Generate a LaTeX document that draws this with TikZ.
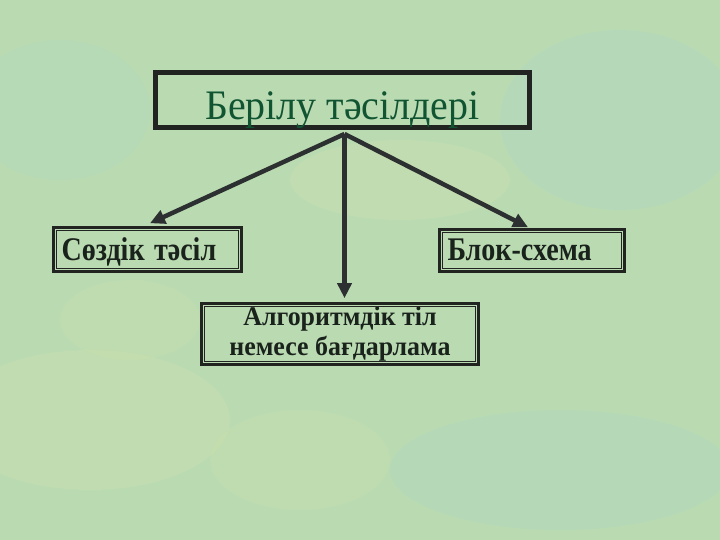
\documentclass[tikz,border=0pt]{standalone}
\usepackage{fontspec}
\setmainfont{Liberation Serif}
\usetikzlibrary{arrows.meta}
\definecolor{bgA}{RGB}{186,219,178}
\definecolor{bgB}{RGB}{206,224,172}
\definecolor{bgC}{RGB}{170,214,198}
\definecolor{edge}{RGB}{34,36,34}
\definecolor{arr}{RGB}{45,48,48}
\definecolor{titlegreen}{RGB}{16,84,50}
\definecolor{bodytext}{RGB}{26,34,28}
\tikzset{
  topbox/.style={draw=edge, line width=5pt, minimum width=374pt, minimum height=55pt, inner sep=0pt},
  lowbox/.style={draw=edge, line width=2.6pt, inner ysep=0pt, text=bodytext},
  conn/.style={draw=arr, line width=4.5pt, -{Triangle[length=15pt,width=14pt]}},
  inner/.style={draw=edge, line width=0.8pt}
}
\begin{document}
\begin{tikzpicture}[x=1pt,y=-1pt]
\useasboundingbox (0,0) rectangle (720,540);
\fill[bgA] (0,0) rectangle (720,540);
\fill[bgB, opacity=0.3] (90,420) ellipse (140 and 70);
\fill[bgB, opacity=0.3] (400,180) ellipse (110 and 40);
\fill[bgC, opacity=0.3] (620,120) ellipse (120 and 90);
\fill[bgC, opacity=0.25] (560,470) ellipse (170 and 60);
\fill[bgB, opacity=0.25] (300,460) ellipse (90 and 50);
\fill[bgC, opacity=0.2] (60,110) ellipse (90 and 70);
\fill[bgB, opacity=0.25] (130,320) ellipse (70 and 40);

\node[topbox, text=titlegreen, font=\fontsize{42}{44}\selectfont] (top) at (342.5,100)
  {\raisebox{-20pt}[0pt][0pt]{\scalebox{0.95}[1]{Берілу тәсілдері}}};
\node[lowbox, minimum width=188pt, minimum height=44pt, inner xsep=8pt, text width=172pt, align=left,
  font=\bfseries\fontsize{33}{35}\selectfont] (left) at (147.5,249.5)
  {\raisebox{-11pt}[0pt][0pt]{\scalebox{0.85}[1]{Сөздік тәсіл}}};
\node[lowbox, minimum width=185pt, minimum height=42pt, inner xsep=8pt, text width=169pt, align=left,
  font=\bfseries\fontsize{33}{35}\selectfont] (right) at (532,250.5)
  {\raisebox{-10pt}[0pt][0pt]{\scalebox{0.85}[1]{Блок-схема}}};
\node[lowbox, minimum width=277pt, minimum height=61pt, font=\bfseries\fontsize{27}{30}\selectfont] (mid) at (340,334)
  {\scalebox{0.96}[1]{\begin{tabular}{@{}c@{}}Алгоритмдік тіл\\немесе бағдарлама\end{tabular}}};

\draw[inner] ([shift={(4.5pt,-4.5pt)}]left.north west) rectangle ([shift={(-4.5pt,4.5pt)}]left.south east);
\draw[inner] ([shift={(4.5pt,-4.5pt)}]right.north west) rectangle ([shift={(-4.5pt,4.5pt)}]right.south east);
\draw[inner] ([shift={(4.5pt,-4.5pt)}]mid.north west) rectangle ([shift={(-4.5pt,4.5pt)}]mid.south east);

\coordinate (hub) at ([xshift=2pt,yshift=-4pt]top.south);
\draw[conn] (hub) -- ([xshift=2.5pt,yshift=3pt]left.north);
\draw[conn] (hub) -- ([yshift=4pt]hub |- mid.north);
\draw[conn] (hub) -- ([xshift=-4pt,yshift=1pt]right.north);
\end{tikzpicture}
\end{document}
